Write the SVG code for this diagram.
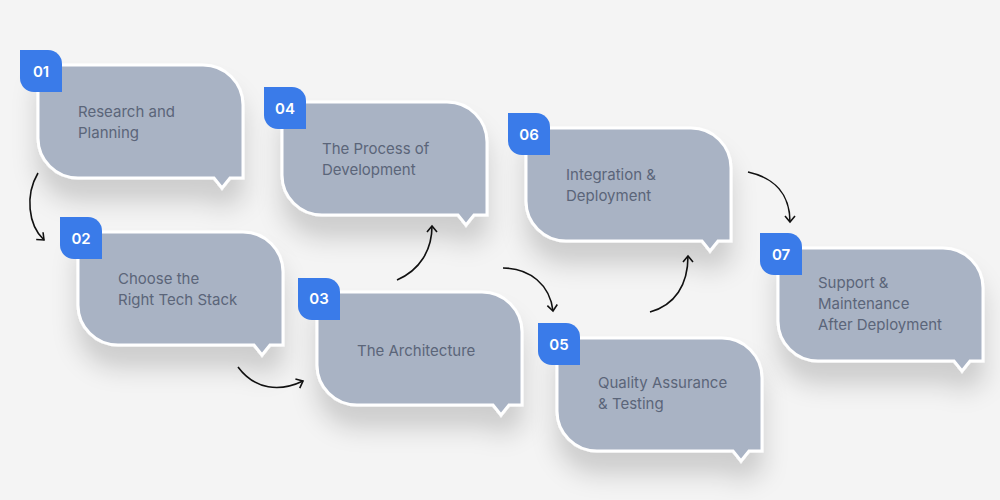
<svg xmlns="http://www.w3.org/2000/svg" width="1000" height="500" viewBox="0 0 1000 500">
<defs>
<filter id="sh" x="-30%" y="-30%" width="160%" height="190%"><feDropShadow dx="0" dy="22" stdDeviation="12" flood-color="#000" flood-opacity="0.16"/></filter>
<marker id="ah" markerWidth="12" markerHeight="12" refX="8" refY="6" orient="auto" markerUnits="userSpaceOnUse"><path d="M2,1 L8,6 L2,11" fill="none" stroke="#111" stroke-width="1.6"/></marker>
<path id="bub" d="M0,0 H165 A40,40 0 0 1 205,40 V113 H192 L184,123 L176,113 H40 A40,40 0 0 1 0,73 Z"/>
<path id="bdg" d="M0,0 H28 A14,14 0 0 1 42,14 V42 H14 A14,14 0 0 1 0,28 Z"/>
</defs>
<style>
.b{fill:#a9b3c4;stroke:#fff;stroke-width:3;filter:url(#sh)}
.g{fill:#3a7be9}
.n{font-family:"Inter","Liberation Sans",sans-serif;font-size:15px;font-weight:600;fill:#fff}
.t{font-family:"Inter","Liberation Sans",sans-serif;font-size:15px;fill:#5b6579}
.c{fill:none;stroke:#111;stroke-width:1.6;marker-end:url(#ah)}
</style>
<rect width="1000" height="500" fill="#f4f4f4"/>
<g id="connectors">
<path class="c" d="M38,173 C25,195 28,225 44,240"/>
<path class="c" d="M238,367 C255,390 280,392 303,381"/>
<path class="c" d="M397,280 C420,270 432,250 432,226"/>
<path class="c" d="M503,268 C530,268 550,285 553,311"/>
<path class="c" d="M650,312 C675,305 688,285 688,256"/>
<path class="c" d="M748,172 C775,178 790,195 790,222"/>
</g>
<g id="n1"><use href="#bub" class="b" x="38" y="65"/><use href="#bdg" class="g" x="20" y="50"/><text class="n" x="41" y="77" text-anchor="middle">01</text><text class="t" x="78" y="117">Research and</text><text class="t" x="78" y="138">Planning</text></g>
<g id="n2"><use href="#bub" class="b" x="78" y="232"/><use href="#bdg" class="g" x="60" y="217"/><text class="n" x="81" y="244" text-anchor="middle">02</text><text class="t" x="118" y="284">Choose the</text><text class="t" x="118" y="305">Right Tech Stack</text></g>
<g id="n4"><use href="#bub" class="b" x="282" y="102"/><use href="#bdg" class="g" x="264" y="87"/><text class="n" x="285" y="114" text-anchor="middle">04</text><text class="t" x="322" y="154">The Process of</text><text class="t" x="322" y="175">Development</text></g>
<g id="n3"><use href="#bub" class="b" x="317" y="292"/><use href="#bdg" class="g" x="298" y="278"/><text class="n" x="319" y="304" text-anchor="middle">03</text><text class="t" x="357" y="356">The Architecture</text></g>
<g id="n6"><use href="#bub" class="b" x="526" y="128"/><use href="#bdg" class="g" x="508" y="113"/><text class="n" x="529" y="140" text-anchor="middle">06</text><text class="t" x="566" y="180">Integration &amp;</text><text class="t" x="566" y="201">Deployment</text></g>
<g id="n5"><use href="#bub" class="b" x="557" y="338"/><use href="#bdg" class="g" x="538" y="323"/><text class="n" x="559" y="350" text-anchor="middle">05</text><text class="t" x="598" y="388">Quality Assurance</text><text class="t" x="598" y="409">&amp; Testing</text></g>
<g id="n7"><use href="#bub" class="b" x="778" y="248"/><use href="#bdg" class="g" x="760" y="233"/><text class="n" x="781" y="260" text-anchor="middle">07</text><text class="t" x="818" y="288">Support &amp;</text><text class="t" x="818" y="309">Maintenance</text><text class="t" x="818" y="330">After Deployment</text></g>
</svg>
